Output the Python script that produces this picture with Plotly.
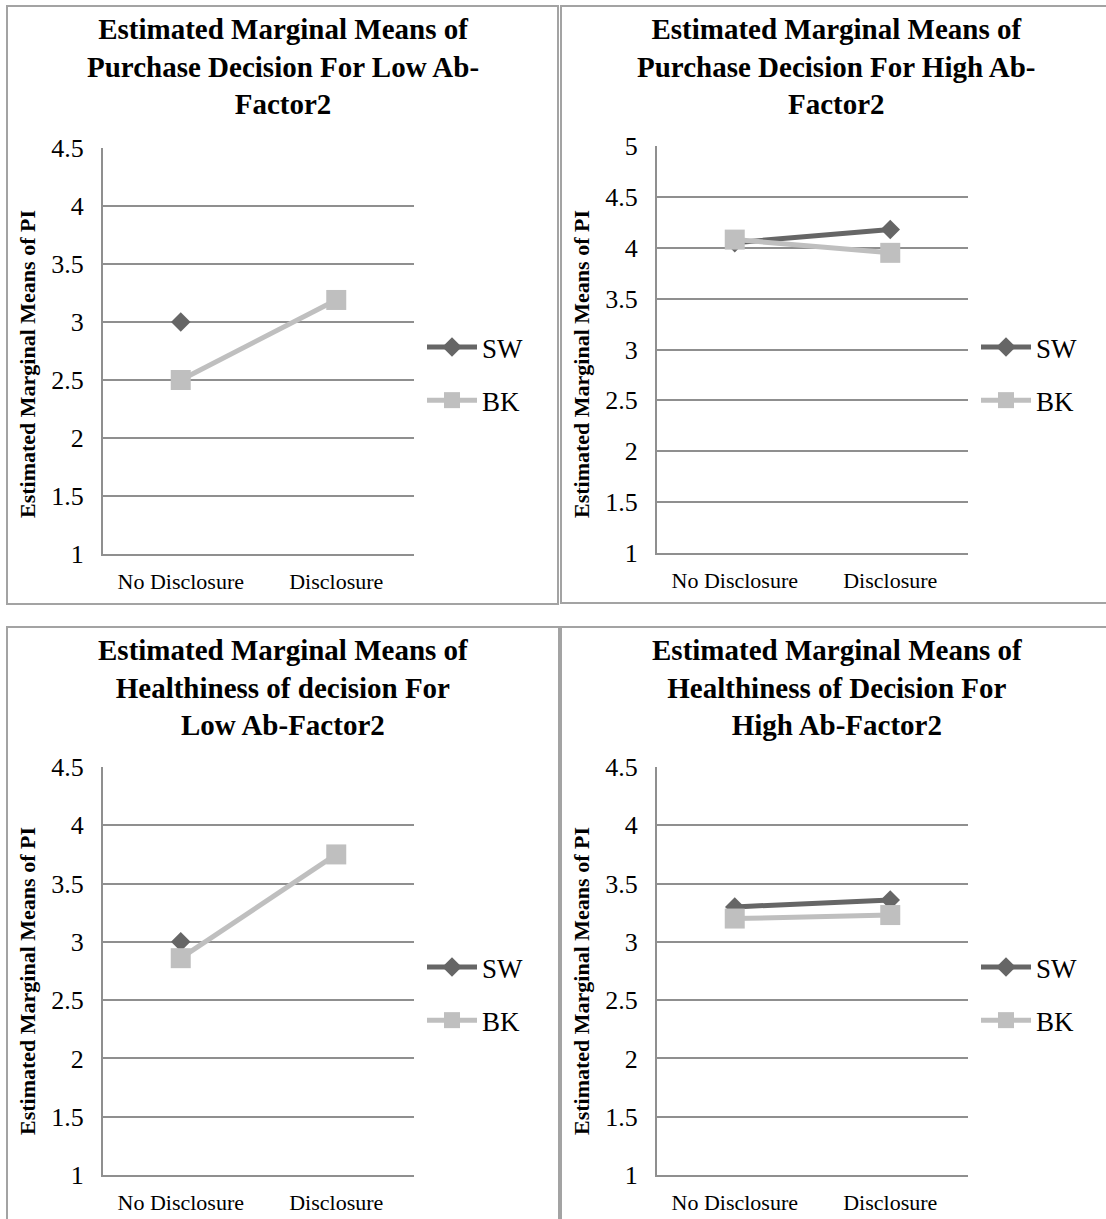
import plotly.graph_objects as go

# Data for the four interaction panels
categories = ["No Disclosure", "Disclosure"]

purchase_low_sw = [3.0, None]
purchase_low_bk = [2.5, 3.19]

purchase_high_sw = [4.05, 4.18]
purchase_high_bk = [4.08, 3.95]

health_low_sw = [3.0, None]
health_low_bk = [2.86, 3.75]

health_high_sw = [3.30, 3.36]
health_high_bk = [3.20, 3.23]

panel_titles = [
    "Estimated Marginal Means of<br>Purchase Decision For Low Ab-<br>Factor2",
    "Estimated Marginal Means of<br>Purchase Decision For High Ab-<br>Factor2",
    "Estimated Marginal Means of<br>Healthiness of decision For<br>Low Ab-Factor2",
    "Estimated Marginal Means of<br>Healthiness of Decision For<br>High Ab-Factor2",
]
y_title = "Estimated Marginal Means of PI"
y_ticks_45 = [1, 1.5, 2, 2.5, 3, 3.5, 4, 4.5]
y_ticks_5 = [1, 1.5, 2, 2.5, 3, 3.5, 4, 4.5, 5]

W, H = 1106, 1219
FONT = "Liberation Serif"
SW_COLOR = "#666666"
BK_COLOR = "#bfbfbf"
GRID = "#8f8f8f"
BORDER = "#a3a3a3"


def px_x(v):
    return v / W


def px_y(v):
    return 1 - v / H


panels = [
    # series, plot-area pixels, y range, ticks, panel box, legend anchor, y-title centre
    dict(sw=purchase_low_sw, bk=purchase_low_bk, xd=(103, 414), yd=(148, 554),
         yr=(1, 4.5), ticks=y_ticks_45, box=(7, 6, 558, 604), lx=422, ly=323,
         tx=27, ty=364),
    dict(sw=purchase_high_sw, bk=purchase_high_bk, xd=(657, 968), yd=(146, 553),
         yr=(1, 5), ticks=y_ticks_5, box=(561, 6, 1112, 603), lx=976, ly=323,
         tx=581, ty=364),
    dict(sw=health_low_sw, bk=health_low_bk, xd=(103, 414), yd=(767, 1175),
         yr=(1, 4.5), ticks=y_ticks_45, box=(7, 627, 559, 1240), lx=422, ly=943,
         tx=27, ty=981),
    dict(sw=health_high_sw, bk=health_high_bk, xd=(657, 968), yd=(767, 1175),
         yr=(1, 4.5), ticks=y_ticks_45, box=(561, 627, 1112, 1240), lx=976, ly=943,
         tx=581, ty=981),
]

fig = go.Figure()
layout = dict(
    width=W, height=H, autosize=False,
    margin=dict(l=0, r=0, t=0, b=0, autoexpand=False),
    paper_bgcolor="white", plot_bgcolor="white",
    font=dict(family=FONT, color="black"),
    showlegend=True,
    annotations=[], shapes=[],
)

for i, p in enumerate(panels):
    n = "" if i == 0 else str(i + 1)
    xa, ya = "x" + n, "y" + n
    leg = "legend" + n
    fig.add_trace(go.Scatter(
        x=categories, y=p["sw"], name="SW", mode="lines+markers",
        line=dict(color=SW_COLOR, width=5),
        marker=dict(symbol="diamond", size=15, color=SW_COLOR),
        xaxis=xa, yaxis=ya, legend=leg, legendgroup="sw" + n,
        connectgaps=False,
    ))
    fig.add_trace(go.Scatter(
        x=categories, y=p["bk"], name="BK", mode="lines+markers",
        line=dict(color=BK_COLOR, width=5),
        marker=dict(symbol="square", size=20, color=BK_COLOR),
        xaxis=xa, yaxis=ya, legend=leg, legendgroup="bk" + n,
    ))

    layout["xaxis" + n] = dict(
        domain=[px_x(p["xd"][0]), px_x(p["xd"][1])],
        anchor=ya, type="category", range=[-0.5, 1.5],
        showgrid=False, zeroline=False,
        showline=True, linecolor=GRID, linewidth=2,
        ticks="", ticklabelstandoff=7, automargin=False,
        tickfont=dict(family=FONT, size=22, color="black"),
        fixedrange=True,
    )
    layout["yaxis" + n] = dict(
        domain=[px_y(p["yd"][1]), px_y(p["yd"][0])],
        anchor=xa, range=list(p["yr"]),
        tickvals=p["ticks"], ticktext=[f"{t:g}" for t in p["ticks"]],
        showgrid=True, gridcolor=GRID, gridwidth=2,
        zeroline=False, showline=True, linecolor=GRID, linewidth=2,
        ticks="", ticklabelstandoff=12, automargin=False,
        tickfont=dict(family=FONT, size=26, color="black"),
        fixedrange=True,
    )
    layout[leg] = dict(
        x=px_x(p["lx"]), y=px_y(p["ly"]), xanchor="left", yanchor="top",
        traceorder="grouped", tracegroupgap=15, itemwidth=50,
        bgcolor="rgba(0,0,0,0)", borderwidth=0,
        font=dict(family=FONT, size=27, color="black"),
    )

    x0, y0, x1, y1 = p["box"]
    layout["shapes"].append(dict(
        type="rect", xref="paper", yref="paper",
        x0=px_x(x0), x1=px_x(x1), y0=px_y(y1), y1=px_y(y0),
        line=dict(color=BORDER, width=2), fillcolor="rgba(0,0,0,0)",
        layer="below",
    ))
    # panel title
    layout["annotations"].append(dict(
        text="<b>" + panel_titles[i] + "</b>",
        xref="paper", yref="paper",
        x=px_x((x0 + min(x1, x0 + 551)) / 2), y=px_y(y0 + 5),
        xanchor="center", yanchor="top", showarrow=False, align="center",
        font=dict(family=FONT, size=29, color="black"),
    ))
    # vertical value-axis title
    layout["annotations"].append(dict(
        text="<b>" + y_title + "</b>",
        xref="paper", yref="paper",
        x=px_x(p["tx"]), y=px_y(p["ty"]),
        xanchor="center", yanchor="middle", showarrow=False, textangle=-90,
        font=dict(family=FONT, size=22, color="black"),
    ))

fig.update_layout(**layout)
fig.write_html("out.html")
